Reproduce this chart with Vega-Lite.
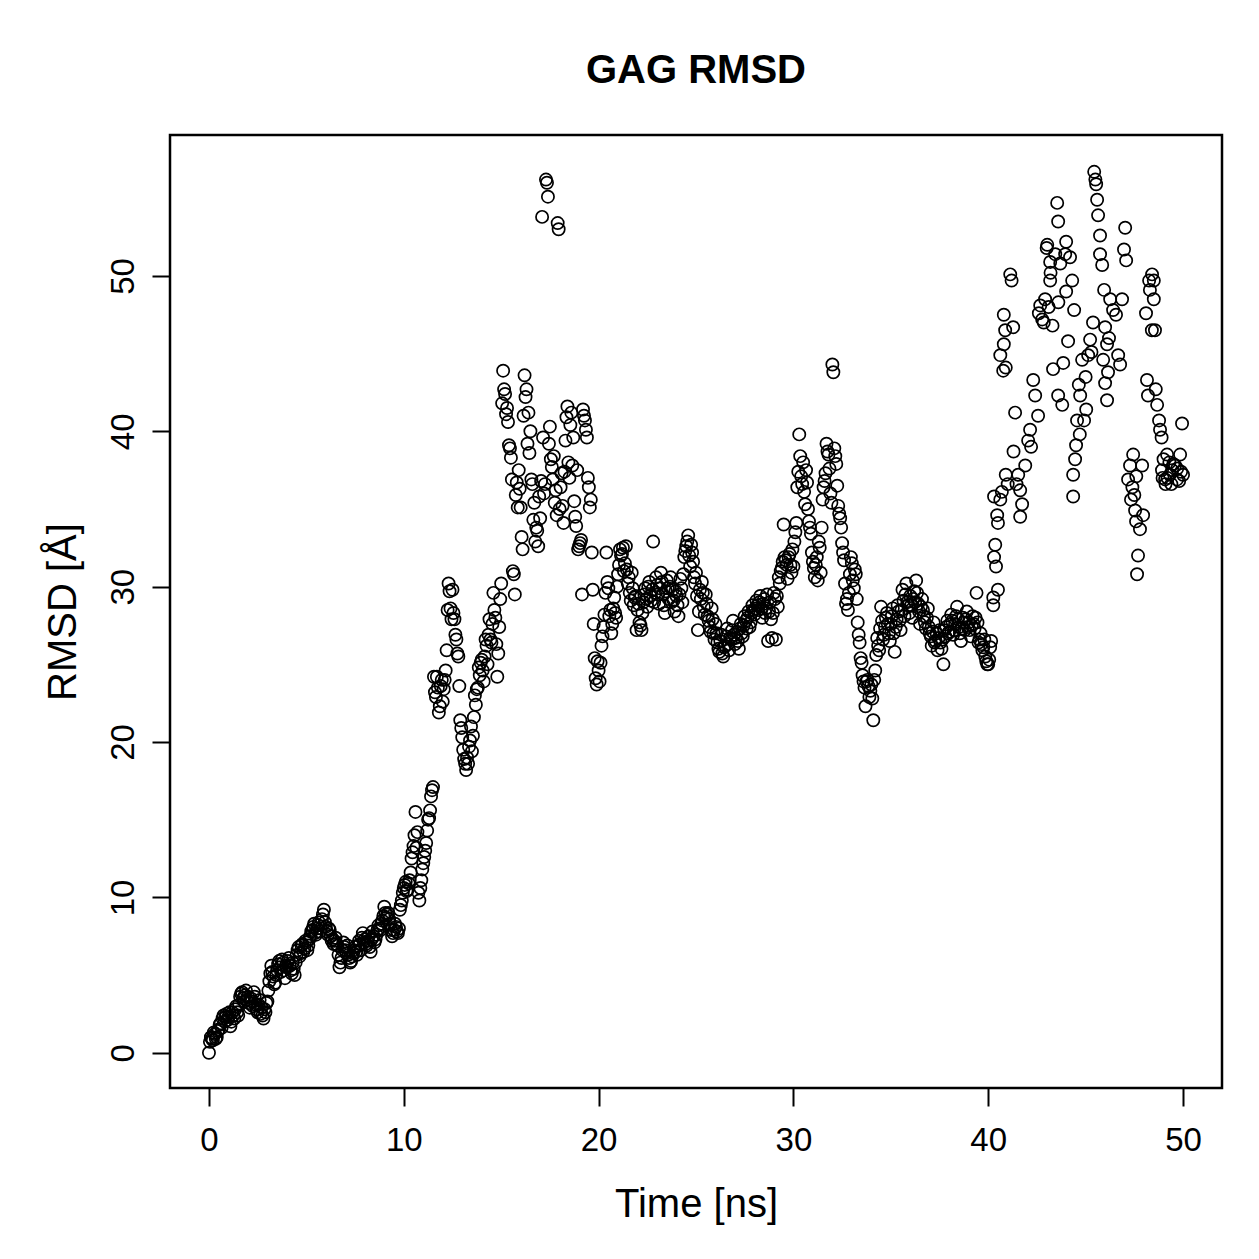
{
  "$schema": "https://vega.github.io/schema/vega-lite/v6.json",
  "autosize": {"type": "none"},
  "padding": {"left": 170, "top": 135, "right": 37, "bottom": 171},
  "width": 1052,
  "height": 953,
  "background": "white",
  "title": {
    "text": "GAG RMSD",
    "font": "Liberation Sans",
    "fontSize": 40,
    "fontWeight": "bold",
    "color": "black",
    "anchor": "middle",
    "baseline": "alphabetic",
    "offset": 12
  },
  "datasets": {
    "rmsd": [
      {"t":0.0,"r":0.0},{"t":0.1,"r":1.0},{"t":0.2,"r":0.8},{"t":0.3,"r":1.2},{"t":0.4,"r":1.0},{"t":0.5,"r":1.5},{"t":0.6,"r":1.9},{"t":0.7,"r":2.2},{"t":0.8,"r":2.0},{"t":0.9,"r":2.5},
      {"t":1.0,"r":2.3},{"t":1.1,"r":1.7},{"t":1.2,"r":2.6},{"t":1.3,"r":2.2},{"t":1.4,"r":3.0},{"t":1.5,"r":2.4},{"t":1.6,"r":3.6},{"t":1.7,"r":3.9},{"t":1.8,"r":3.3},{"t":1.9,"r":4.0},
      {"t":2.0,"r":3.6},{"t":2.1,"r":2.9},{"t":2.2,"r":3.3},{"t":2.3,"r":3.9},{"t":2.4,"r":3.1},{"t":2.5,"r":2.6},{"t":2.6,"r":3.4},{"t":2.7,"r":2.9},{"t":2.8,"r":2.2},{"t":2.9,"r":2.6},
      {"t":3.0,"r":3.3},{"t":3.1,"r":4.6},{"t":3.2,"r":5.6},{"t":3.3,"r":4.9},{"t":3.4,"r":4.5},{"t":3.5,"r":5.3},{"t":3.6,"r":5.9},{"t":3.7,"r":5.2},{"t":3.8,"r":5.8},{"t":3.9,"r":4.8},
      {"t":4.0,"r":5.5},{"t":4.1,"r":6.1},{"t":4.2,"r":5.3},{"t":4.3,"r":5.8},{"t":4.4,"r":5.0},{"t":4.5,"r":6.3},{"t":4.6,"r":6.8},{"t":4.7,"r":6.4},{"t":4.8,"r":7.0},{"t":4.9,"r":6.7},
      {"t":5.0,"r":7.1},{"t":5.1,"r":6.9},{"t":5.2,"r":7.5},{"t":5.3,"r":7.9},{"t":5.4,"r":8.3},{"t":5.5,"r":7.6},{"t":5.6,"r":8.2},{"t":5.7,"r":7.8},{"t":5.8,"r":8.6},{"t":5.9,"r":9.2},
      {"t":6.0,"r":8.1},{"t":6.1,"r":7.6},{"t":6.2,"r":7.9},{"t":6.3,"r":7.2},{"t":6.4,"r":7.0},{"t":6.5,"r":7.4},{"t":6.6,"r":6.9},{"t":6.7,"r":5.5},{"t":6.8,"r":6.1},{"t":6.9,"r":7.1},
      {"t":7.0,"r":6.6},{"t":7.1,"r":6.9},{"t":7.2,"r":6.1},{"t":7.3,"r":5.9},{"t":7.4,"r":6.4},{"t":7.5,"r":6.8},{"t":7.6,"r":6.3},{"t":7.7,"r":7.2},{"t":7.8,"r":6.6},{"t":7.9,"r":7.7},
      {"t":8.0,"r":7.3},{"t":8.1,"r":6.9},{"t":8.2,"r":7.5},{"t":8.3,"r":6.5},{"t":8.4,"r":7.8},{"t":8.5,"r":7.1},{"t":8.6,"r":7.6},{"t":8.7,"r":8.2},{"t":8.8,"r":7.9},{"t":8.9,"r":8.5},
      {"t":9.0,"r":9.4},{"t":9.1,"r":8.7},{"t":9.2,"r":9.0},{"t":9.3,"r":8.3},{"t":9.4,"r":7.5},{"t":9.5,"r":7.9},{"t":9.6,"r":8.1},{"t":9.7,"r":7.7},{"t":9.8,"r":9.2},{"t":9.9,"r":9.8},
      {"t":10.0,"r":10.6},{"t":10.1,"r":11.0},{"t":10.2,"r":10.5},{"t":10.3,"r":11.1},{"t":10.4,"r":12.5},{"t":10.5,"r":13.3},{"t":10.6,"r":15.5},{"t":10.7,"r":14.2},{"t":10.8,"r":9.8},{"t":10.9,"r":11.1},
      {"t":11.0,"r":12.2},{"t":11.1,"r":13.0},{"t":11.2,"r":14.3},{"t":11.3,"r":15.1},{"t":11.4,"r":16.5},{"t":11.5,"r":17.1},{"t":11.6,"r":23.2},{"t":11.7,"r":24.2},{"t":11.8,"r":21.9},{"t":11.9,"r":23.6},
      {"t":12.0,"r":22.6},{"t":12.1,"r":24.0},{"t":12.2,"r":25.9},{"t":12.3,"r":30.2},{"t":12.4,"r":28.6},{"t":12.5,"r":29.8},{"t":12.6,"r":27.9},{"t":12.7,"r":26.6},{"t":12.8,"r":25.5},{"t":12.9,"r":21.4},
      {"t":13.0,"r":20.3},{"t":13.1,"r":18.9},{"t":13.2,"r":18.2},{"t":13.3,"r":18.6},{"t":13.4,"r":20.1},{"t":13.5,"r":19.4},{"t":13.6,"r":21.6},{"t":13.7,"r":22.4},{"t":13.8,"r":23.5},{"t":13.9,"r":24.3},
      {"t":14.0,"r":25.3},{"t":14.1,"r":23.9},{"t":14.2,"r":26.6},{"t":14.3,"r":25.0},{"t":14.4,"r":27.9},{"t":14.5,"r":26.4},{"t":14.6,"r":29.6},{"t":14.7,"r":28.0},{"t":14.8,"r":24.2},{"t":14.9,"r":27.4},
      {"t":15.0,"r":30.2},{"t":15.1,"r":43.9},{"t":15.2,"r":42.4},{"t":15.3,"r":41.5},{"t":15.4,"r":39.1},{"t":15.5,"r":38.3},{"t":15.6,"r":31.0},{"t":15.7,"r":29.5},{"t":15.8,"r":36.7},{"t":15.9,"r":37.5},
      {"t":16.0,"r":35.1},{"t":16.1,"r":32.4},{"t":16.2,"r":43.6},{"t":16.3,"r":42.7},{"t":16.4,"r":41.2},{"t":16.5,"r":40.0},{"t":16.6,"r":36.6},{"t":16.7,"r":35.4},{"t":16.8,"r":33.8},{"t":16.9,"r":32.6},
      {"t":17.0,"r":34.4},{"t":17.1,"r":53.8},{"t":17.2,"r":36.0},{"t":17.3,"r":56.2},{"t":17.35,"r":56.0},{"t":17.4,"r":55.1},{"t":17.5,"r":40.3},{"t":17.6,"r":37.7},{"t":17.7,"r":38.4},{"t":17.8,"r":36.2},{"t":17.9,"r":53.4},{"t":17.95,"r":53.0},
      {"t":18.0,"r":35.0},{"t":18.1,"r":37.3},{"t":18.2,"r":34.1},{"t":18.3,"r":39.4},{"t":18.4,"r":41.6},{"t":18.5,"r":37.0},{"t":18.6,"r":41.2},{"t":18.7,"r":39.6},{"t":18.8,"r":34.5},{"t":18.9,"r":37.5},
      {"t":19.0,"r":32.6},{"t":19.1,"r":33.0},{"t":19.2,"r":41.4},{"t":19.3,"r":40.7},{"t":19.4,"r":39.6},{"t":19.5,"r":36.4},{"t":19.6,"r":35.6},{"t":19.7,"r":29.8},{"t":19.8,"r":25.4},{"t":19.9,"r":23.7},
      {"t":20.0,"r":24.6},{"t":20.1,"r":25.1},{"t":20.2,"r":26.8},{"t":20.3,"r":28.2},{"t":20.4,"r":32.2},{"t":20.5,"r":29.9},{"t":20.6,"r":28.5},{"t":20.7,"r":27.6},{"t":20.8,"r":29.3},{"t":20.9,"r":28.0},
      {"t":21.0,"r":30.8},{"t":21.1,"r":32.4},{"t":21.2,"r":32.1},{"t":21.3,"r":31.0},{"t":21.4,"r":32.6},{"t":21.5,"r":30.2},{"t":21.6,"r":29.6},{"t":21.7,"r":30.9},{"t":21.8,"r":28.8},{"t":21.9,"r":29.4},
      {"t":22.0,"r":28.5},{"t":22.1,"r":27.7},{"t":22.2,"r":27.2},{"t":22.3,"r":29.0},{"t":22.4,"r":29.9},{"t":22.5,"r":28.7},{"t":22.6,"r":30.3},{"t":22.7,"r":29.1},{"t":22.8,"r":32.9},{"t":22.9,"r":29.6},
      {"t":23.0,"r":30.1},{"t":23.1,"r":28.9},{"t":23.2,"r":30.9},{"t":23.3,"r":29.5},{"t":23.4,"r":28.3},{"t":23.5,"r":30.4},{"t":23.6,"r":29.2},{"t":23.7,"r":30.6},{"t":23.8,"r":29.8},{"t":23.9,"r":28.4},
      {"t":24.0,"r":29.4},{"t":24.1,"r":28.1},{"t":24.2,"r":30.5},{"t":24.3,"r":29.0},{"t":24.4,"r":31.9},{"t":24.5,"r":32.6},{"t":24.6,"r":33.3},{"t":24.7,"r":31.3},{"t":24.8,"r":32.2},{"t":24.9,"r":30.6},
      {"t":25.0,"r":30.9},{"t":25.1,"r":27.2},{"t":25.2,"r":29.8},{"t":25.3,"r":30.3},{"t":25.4,"r":28.7},{"t":25.5,"r":29.5},{"t":25.6,"r":28.1},{"t":25.7,"r":27.4},{"t":25.8,"r":28.6},{"t":25.9,"r":27.0},
      {"t":26.0,"r":27.6},{"t":26.1,"r":26.4},{"t":26.2,"r":25.8},{"t":26.3,"r":26.9},{"t":26.4,"r":25.5},{"t":26.5,"r":26.2},{"t":26.6,"r":27.3},{"t":26.7,"r":25.9},{"t":26.8,"r":26.6},{"t":26.9,"r":27.8},
      {"t":27.0,"r":26.3},{"t":27.1,"r":27.1},{"t":27.2,"r":26.0},{"t":27.3,"r":27.6},{"t":27.4,"r":26.8},{"t":27.5,"r":28.1},{"t":27.6,"r":27.3},{"t":27.7,"r":28.4},{"t":27.8,"r":27.7},{"t":27.9,"r":28.8},
      {"t":28.0,"r":28.2},{"t":28.1,"r":29.1},{"t":28.2,"r":28.5},{"t":28.3,"r":29.4},{"t":28.4,"r":28.0},{"t":28.5,"r":29.2},{"t":28.6,"r":28.6},{"t":28.7,"r":26.5},{"t":28.8,"r":29.0},{"t":28.9,"r":26.7},
      {"t":29.0,"r":29.6},{"t":29.1,"r":26.6},{"t":29.2,"r":28.7},{"t":29.3,"r":30.2},{"t":29.4,"r":31.2},{"t":29.5,"r":34.0},{"t":29.6,"r":31.7},{"t":29.7,"r":30.5},{"t":29.8,"r":32.1},{"t":29.9,"r":30.9},
      {"t":30.0,"r":31.3},{"t":30.1,"r":33.5},{"t":30.2,"r":36.4},{"t":30.3,"r":39.8},{"t":30.4,"r":37.1},{"t":30.5,"r":38.0},{"t":30.6,"r":35.3},{"t":30.7,"r":36.7},{"t":30.8,"r":34.2},{"t":30.9,"r":33.4},
      {"t":31.0,"r":31.6},{"t":31.1,"r":30.6},{"t":31.2,"r":31.9},{"t":31.3,"r":32.9},{"t":31.4,"r":30.9},{"t":31.5,"r":35.6},{"t":31.6,"r":36.8},{"t":31.7,"r":39.2},{"t":31.8,"r":38.5},{"t":31.9,"r":36.0},
      {"t":32.0,"r":44.3},{"t":32.05,"r":43.8},{"t":32.1,"r":38.9},{"t":32.2,"r":37.9},{"t":32.3,"r":35.2},{"t":32.4,"r":34.4},{"t":32.5,"r":32.8},{"t":32.6,"r":31.7},{"t":32.7,"r":28.9},{"t":32.8,"r":28.5},{"t":32.9,"r":30.8},
      {"t":33.0,"r":31.5},{"t":33.1,"r":29.9},{"t":33.2,"r":30.8},{"t":33.3,"r":27.7},{"t":33.4,"r":26.4},{"t":33.5,"r":25.1},{"t":33.6,"r":23.9},{"t":33.7,"r":22.3},{"t":33.8,"r":24.0},{"t":33.9,"r":22.9},
      {"t":34.0,"r":23.7},{"t":34.1,"r":21.4},{"t":34.2,"r":24.6},{"t":34.3,"r":26.7},{"t":34.4,"r":25.9},{"t":34.5,"r":28.7},{"t":34.6,"r":26.6},{"t":34.7,"r":27.4},{"t":34.8,"r":28.3},{"t":34.9,"r":27.0},
      {"t":35.0,"r":27.6},{"t":35.1,"r":28.6},{"t":35.2,"r":25.8},{"t":35.3,"r":27.9},{"t":35.4,"r":28.4},{"t":35.5,"r":27.2},{"t":35.6,"r":29.8},{"t":35.7,"r":28.1},{"t":35.8,"r":30.2},{"t":35.9,"r":28.8},
      {"t":36.0,"r":29.4},{"t":36.1,"r":28.0},{"t":36.2,"r":29.7},{"t":36.3,"r":30.4},{"t":36.4,"r":28.9},{"t":36.5,"r":27.6},{"t":36.6,"r":29.2},{"t":36.7,"r":28.1},{"t":36.8,"r":27.3},{"t":36.9,"r":28.6},
      {"t":37.0,"r":27.0},{"t":37.1,"r":26.2},{"t":37.2,"r":27.7},{"t":37.3,"r":26.5},{"t":37.4,"r":25.9},{"t":37.5,"r":27.2},{"t":37.6,"r":26.0},{"t":37.7,"r":25.0},{"t":37.8,"r":26.8},{"t":37.9,"r":27.8},
      {"t":38.0,"r":27.1},{"t":38.1,"r":28.2},{"t":38.2,"r":26.9},{"t":38.3,"r":27.6},{"t":38.4,"r":28.7},{"t":38.5,"r":27.4},{"t":38.6,"r":26.5},{"t":38.7,"r":28.0},{"t":38.8,"r":27.2},{"t":38.9,"r":28.4},
      {"t":39.0,"r":27.7},{"t":39.1,"r":26.8},{"t":39.2,"r":28.1},{"t":39.3,"r":27.3},{"t":39.4,"r":29.6},{"t":39.5,"r":26.4},{"t":39.6,"r":27.0},{"t":39.7,"r":25.9},{"t":39.8,"r":26.6},{"t":39.9,"r":25.2},
      {"t":40.0,"r":25.0},{"t":40.1,"r":26.1},{"t":40.26,"r":29.3},{"t":40.26,"r":28.8},{"t":40.3,"r":31.9},{"t":40.3,"r":35.8},{"t":40.36,"r":32.7},{"t":40.4,"r":31.3},{"t":40.46,"r":34.6},{"t":40.5,"r":29.8},{"t":40.5,"r":34.1},
      {"t":40.62,"r":35.6},{"t":40.62,"r":44.9},{"t":40.7,"r":36.1},{"t":40.77,"r":43.9},{"t":40.8,"r":47.5},{"t":40.8,"r":45.6},{"t":40.87,"r":46.5},{"t":40.9,"r":37.2},{"t":40.9,"r":44.1},
      {"t":41.0,"r":36.6},{"t":41.13,"r":50.1},{"t":41.2,"r":49.7},{"t":41.28,"r":46.7},{"t":41.3,"r":38.7},{"t":41.38,"r":41.2},{"t":41.45,"r":36.6},{"t":41.54,"r":37.2},{"t":41.64,"r":36.2},{"t":41.64,"r":34.5},{"t":41.74,"r":35.3},{"t":41.9,"r":37.8},
      {"t":42.05,"r":39.4},{"t":42.15,"r":40.1},{"t":42.2,"r":39.0},{"t":42.31,"r":43.3},{"t":42.41,"r":42.3},{"t":42.56,"r":41.0},{"t":42.6,"r":47.6},{"t":42.67,"r":48.1},{"t":42.77,"r":47.2},{"t":42.85,"r":47.0},{"t":42.92,"r":48.5},
      {"t":43.0,"r":51.8},{"t":43.03,"r":52.0},{"t":43.1,"r":48.0},{"t":43.18,"r":50.9},{"t":43.18,"r":49.7},{"t":43.2,"r":50.2},{"t":43.3,"r":46.8},{"t":43.33,"r":44.0},{"t":43.44,"r":51.4},{"t":43.54,"r":54.7},{"t":43.59,"r":53.5},{"t":43.59,"r":42.3},{"t":43.6,"r":48.3},{"t":43.7,"r":50.8},
      {"t":43.8,"r":41.7},{"t":43.85,"r":44.4},{"t":43.95,"r":51.4},{"t":44.0,"r":52.2},{"t":44.0,"r":49.0},{"t":44.1,"r":45.8},{"t":44.2,"r":51.2},{"t":44.31,"r":49.7},{"t":44.36,"r":37.2},{"t":44.36,"r":35.8},{"t":44.41,"r":47.8},{"t":44.46,"r":38.2},{"t":44.51,"r":39.1},{"t":44.56,"r":40.7},
      {"t":44.65,"r":43.0},{"t":44.7,"r":39.8},{"t":44.72,"r":42.3},{"t":44.82,"r":44.6},{"t":44.92,"r":40.7},{"t":45.0,"r":43.5},{"t":45.03,"r":41.4},{"t":45.13,"r":44.9},{"t":45.23,"r":45.9},{"t":45.3,"r":45.1},{"t":45.38,"r":47.0},
      {"t":45.44,"r":56.7},{"t":45.5,"r":56.2},{"t":45.54,"r":55.9},{"t":45.59,"r":54.9},{"t":45.64,"r":53.9},{"t":45.74,"r":52.6},{"t":45.74,"r":51.4},{"t":45.85,"r":50.7},{"t":45.9,"r":44.6},{"t":45.95,"r":49.1},
      {"t":46.0,"r":46.7},{"t":46.0,"r":43.1},{"t":46.1,"r":45.6},{"t":46.1,"r":42.0},{"t":46.15,"r":43.8},{"t":46.2,"r":46.0},{"t":46.26,"r":48.5},{"t":46.41,"r":47.8},{"t":46.56,"r":47.5},{"t":46.67,"r":44.9},{"t":46.77,"r":44.3},{"t":46.87,"r":48.5},{"t":46.97,"r":51.7},
      {"t":47.03,"r":53.1},{"t":47.08,"r":51.0},{"t":47.18,"r":36.9},{"t":47.28,"r":37.8},{"t":47.33,"r":35.6},{"t":47.4,"r":36.4},{"t":47.44,"r":38.5},{"t":47.5,"r":35.9},{"t":47.54,"r":34.9},{"t":47.59,"r":34.2},{"t":47.6,"r":37.1},{"t":47.64,"r":30.8},{"t":47.69,"r":32.0},{"t":47.79,"r":33.7},{"t":47.9,"r":37.8},{"t":47.95,"r":34.6},
      {"t":48.1,"r":47.6},{"t":48.15,"r":43.3},{"t":48.2,"r":42.3},{"t":48.26,"r":49.7},{"t":48.3,"r":49.1},{"t":48.4,"r":46.5},{"t":48.41,"r":50.1},{"t":48.5,"r":48.5},{"t":48.5,"r":49.7},{"t":48.56,"r":46.5},{"t":48.6,"r":42.7},{"t":48.67,"r":41.7},{"t":48.77,"r":40.7},{"t":48.82,"r":40.1},
      {"t":48.9,"r":39.6},{"t":48.92,"r":37.5},{"t":48.95,"r":37.0},{"t":49.0,"r":38.2},{"t":49.08,"r":36.9},{"t":49.1,"r":36.6},{"t":49.18,"r":38.5},{"t":49.2,"r":37.0},{"t":49.3,"r":38.0},{"t":49.33,"r":37.2},{"t":49.4,"r":36.6},{"t":49.44,"r":37.5},{"t":49.5,"r":37.9},
      {"t":49.59,"r":37.8},{"t":49.69,"r":36.9},{"t":49.7,"r":37.6},{"t":49.8,"r":36.8},{"t":49.85,"r":38.5},{"t":49.9,"r":37.4},{"t":49.95,"r":40.5},{"t":50.0,"r":37.2},
      {"t":0.05,"r":0.7},{"t":0.15,"r":0.9},{"t":0.25,"r":1.3},{"t":0.35,"r":0.9},{"t":0.45,"r":1.4},{"t":0.55,"r":1.8},{"t":0.65,"r":1.6},{"t":0.75,"r":2.4},{"t":0.85,"r":2.3},{"t":0.95,"r":2.1},
      {"t":1.05,"r":2.6},{"t":1.15,"r":2.0},{"t":1.25,"r":2.4},{"t":1.35,"r":2.8},{"t":1.45,"r":2.6},{"t":1.55,"r":3.1},{"t":1.65,"r":3.8},{"t":1.75,"r":3.5},{"t":1.85,"r":3.7},{"t":1.95,"r":3.4},
      {"t":2.05,"r":3.2},{"t":2.15,"r":3.5},{"t":2.25,"r":3.0},{"t":2.35,"r":3.6},{"t":2.45,"r":2.8},{"t":2.55,"r":3.1},{"t":2.65,"r":2.5},{"t":2.75,"r":2.4},{"t":2.85,"r":2.8},{"t":2.95,"r":3.2},
      {"t":3.05,"r":4.0},{"t":3.15,"r":5.1},{"t":3.25,"r":5.2},{"t":3.35,"r":4.4},{"t":3.45,"r":5.0},{"t":3.55,"r":5.7},{"t":3.65,"r":5.5},{"t":3.75,"r":6.0},{"t":3.85,"r":5.3},{"t":3.95,"r":5.6},
      {"t":4.05,"r":5.9},{"t":4.15,"r":5.6},{"t":4.25,"r":5.1},{"t":4.35,"r":5.4},{"t":4.45,"r":5.8},{"t":4.55,"r":6.6},{"t":4.65,"r":6.2},{"t":4.75,"r":6.9},{"t":4.85,"r":6.5},{"t":4.95,"r":7.2},
      {"t":5.05,"r":6.6},{"t":5.15,"r":7.3},{"t":5.25,"r":7.8},{"t":5.35,"r":8.1},{"t":5.45,"r":7.7},{"t":5.55,"r":8.0},{"t":5.65,"r":8.4},{"t":5.75,"r":8.0},{"t":5.85,"r":8.9},{"t":5.95,"r":8.4},
      {"t":6.05,"r":7.8},{"t":6.15,"r":8.0},{"t":6.25,"r":7.5},{"t":6.35,"r":7.3},{"t":6.45,"r":7.2},{"t":6.55,"r":7.0},{"t":6.65,"r":6.3},{"t":6.75,"r":5.8},{"t":6.85,"r":6.6},{"t":6.95,"r":6.8},
      {"t":7.05,"r":6.4},{"t":7.15,"r":6.3},{"t":7.25,"r":5.8},{"t":7.35,"r":6.2},{"t":7.45,"r":6.6},{"t":7.55,"r":6.5},{"t":7.65,"r":6.9},{"t":7.75,"r":7.0},{"t":7.85,"r":7.4},{"t":7.95,"r":7.1},
      {"t":8.05,"r":7.0},{"t":8.15,"r":7.2},{"t":8.25,"r":6.8},{"t":8.35,"r":7.3},{"t":8.45,"r":7.5},{"t":8.55,"r":7.3},{"t":8.65,"r":7.9},{"t":8.75,"r":8.0},{"t":8.85,"r":8.3},{"t":8.95,"r":8.8},
      {"t":9.05,"r":9.0},{"t":9.15,"r":8.9},{"t":9.25,"r":8.6},{"t":9.35,"r":7.9},{"t":9.45,"r":7.7},{"t":9.55,"r":8.3},{"t":9.65,"r":7.8},{"t":9.75,"r":8.0},{"t":9.85,"r":9.5},{"t":9.95,"r":10.3},
      {"t":10.05,"r":10.8},{"t":10.15,"r":10.4},{"t":10.25,"r":10.9},{"t":10.35,"r":11.6},{"t":10.45,"r":12.9},{"t":10.55,"r":14.0},{"t":10.65,"r":13.2},{"t":10.75,"r":10.3},{"t":10.85,"r":10.6},{"t":10.95,"r":11.8},
      {"t":11.05,"r":12.6},{"t":11.15,"r":13.5},{"t":11.25,"r":15.0},{"t":11.35,"r":15.6},{"t":11.45,"r":16.9},{"t":11.55,"r":24.2},{"t":11.65,"r":22.9},{"t":11.75,"r":23.5},{"t":11.85,"r":22.3},{"t":11.95,"r":24.0},
      {"t":12.05,"r":23.4},{"t":12.15,"r":24.6},{"t":12.25,"r":28.5},{"t":12.35,"r":29.7},{"t":12.45,"r":27.9},{"t":12.55,"r":28.3},{"t":12.65,"r":26.9},{"t":12.75,"r":25.7},{"t":12.85,"r":23.6},{"t":12.95,"r":20.9},
      {"t":13.05,"r":19.5},{"t":13.15,"r":18.6},{"t":13.25,"r":19.0},{"t":13.35,"r":19.7},{"t":13.45,"r":21.0},{"t":13.55,"r":20.4},{"t":13.65,"r":23.0},{"t":13.75,"r":23.4},{"t":13.85,"r":24.8},{"t":13.95,"r":25.1},
      {"t":14.05,"r":24.6},{"t":14.15,"r":25.5},{"t":14.25,"r":26.2},{"t":14.35,"r":26.9},{"t":14.45,"r":26.6},{"t":14.55,"r":27.6},{"t":14.65,"r":28.5},{"t":14.75,"r":26.3},{"t":14.85,"r":25.7},{"t":14.95,"r":29.2},
      {"t":15.05,"r":41.8},{"t":15.15,"r":42.7},{"t":15.25,"r":41.1},{"t":15.35,"r":40.6},{"t":15.45,"r":38.9},{"t":15.55,"r":36.9},{"t":15.65,"r":30.8},{"t":15.75,"r":35.9},{"t":15.85,"r":35.1},{"t":15.95,"r":36.3},
      {"t":16.05,"r":33.2},{"t":16.15,"r":41.0},{"t":16.25,"r":42.2},{"t":16.35,"r":39.2},{"t":16.45,"r":38.6},{"t":16.55,"r":36.9},{"t":16.65,"r":34.3},{"t":16.75,"r":32.9},{"t":16.85,"r":33.6},{"t":16.95,"r":35.8},
      {"t":17.05,"r":36.8},{"t":17.15,"r":39.6},{"t":17.25,"r":36.6},{"t":17.45,"r":39.2},{"t":17.55,"r":38.2},{"t":17.65,"r":36.9},{"t":17.75,"r":35.4},{"t":17.85,"r":34.6},
      {"t":18.05,"r":36.4},{"t":18.15,"r":35.2},{"t":18.25,"r":37.4},{"t":18.35,"r":40.9},{"t":18.45,"r":38.0},{"t":18.55,"r":40.4},{"t":18.65,"r":37.8},{"t":18.75,"r":35.5},{"t":18.85,"r":33.9},{"t":18.95,"r":32.4},
      {"t":19.05,"r":32.8},{"t":19.15,"r":29.5},{"t":19.25,"r":41.0},{"t":19.35,"r":40.1},{"t":19.45,"r":37.0},{"t":19.55,"r":35.1},{"t":19.65,"r":32.2},{"t":19.75,"r":27.6},{"t":19.85,"r":24.1},{"t":19.95,"r":25.2},
      {"t":20.05,"r":23.9},{"t":20.15,"r":26.2},{"t":20.25,"r":27.4},{"t":20.35,"r":29.6},{"t":20.45,"r":30.3},{"t":20.55,"r":28.1},{"t":20.65,"r":27.0},{"t":20.75,"r":28.6},{"t":20.85,"r":28.3},{"t":20.95,"r":30.0},
      {"t":21.05,"r":31.4},{"t":21.15,"r":32.0},{"t":21.25,"r":32.5},{"t":21.35,"r":31.5},{"t":21.45,"r":31.1},{"t":21.55,"r":30.6},{"t":21.65,"r":29.1},{"t":21.75,"r":29.9},{"t":21.85,"r":29.3},{"t":21.95,"r":27.2},
      {"t":22.05,"r":28.9},{"t":22.15,"r":27.5},{"t":22.25,"r":28.3},{"t":22.35,"r":29.5},{"t":22.45,"r":29.2},{"t":22.55,"r":30.0},{"t":22.65,"r":29.4},{"t":22.75,"r":29.8},{"t":22.85,"r":29.0},{"t":22.95,"r":30.6},
      {"t":23.05,"r":29.5},{"t":23.15,"r":29.9},{"t":23.25,"r":30.3},{"t":23.35,"r":28.8},{"t":23.45,"r":29.7},{"t":23.55,"r":29.9},{"t":23.65,"r":30.0},{"t":23.75,"r":29.0},{"t":23.85,"r":29.1},{"t":23.95,"r":29.7},
      {"t":24.05,"r":28.8},{"t":24.15,"r":29.5},{"t":24.25,"r":29.9},{"t":24.35,"r":30.8},{"t":24.45,"r":32.3},{"t":24.55,"r":32.9},{"t":24.65,"r":32.0},{"t":24.75,"r":32.7},{"t":24.85,"r":31.6},{"t":24.95,"r":30.2},
      {"t":25.05,"r":29.4},{"t":25.15,"r":28.4},{"t":25.25,"r":29.2},{"t":25.35,"r":29.6},{"t":25.45,"r":28.2},{"t":25.55,"r":28.9},{"t":25.65,"r":27.8},{"t":25.75,"r":27.1},{"t":25.85,"r":27.9},{"t":25.95,"r":26.6},
      {"t":26.05,"r":27.0},{"t":26.15,"r":26.0},{"t":26.25,"r":26.5},{"t":26.35,"r":25.7},{"t":26.45,"r":26.1},{"t":26.55,"r":26.8},{"t":26.65,"r":26.3},{"t":26.75,"r":26.7},{"t":26.85,"r":27.2},{"t":26.95,"r":26.9},
      {"t":27.05,"r":26.7},{"t":27.15,"r":26.5},{"t":27.25,"r":27.3},{"t":27.35,"r":27.0},{"t":27.45,"r":27.5},{"t":27.55,"r":27.8},{"t":27.65,"r":28.0},{"t":27.75,"r":27.4},{"t":27.85,"r":28.3},{"t":27.95,"r":28.5},
      {"t":28.05,"r":28.6},{"t":28.15,"r":28.8},{"t":28.25,"r":29.0},{"t":28.35,"r":28.6},{"t":28.45,"r":28.9},{"t":28.55,"r":28.3},{"t":28.65,"r":29.5},{"t":28.75,"r":28.4},{"t":28.85,"r":27.9},{"t":28.95,"r":28.3},
      {"t":29.05,"r":29.2},{"t":29.15,"r":29.4},{"t":29.25,"r":30.6},{"t":29.35,"r":31.0},{"t":29.45,"r":31.6},{"t":29.55,"r":31.9},{"t":29.65,"r":31.4},{"t":29.75,"r":31.9},{"t":29.85,"r":31.4},{"t":29.95,"r":32.4},
      {"t":30.05,"r":32.9},{"t":30.15,"r":34.1},{"t":30.25,"r":37.4},{"t":30.35,"r":38.4},{"t":30.45,"r":36.6},{"t":30.55,"r":36.1},{"t":30.65,"r":37.5},{"t":30.75,"r":35.0},{"t":30.85,"r":33.8},{"t":30.95,"r":32.2},
      {"t":31.05,"r":31.2},{"t":31.15,"r":31.4},{"t":31.25,"r":30.4},{"t":31.35,"r":32.5},{"t":31.45,"r":33.8},{"t":31.55,"r":36.4},{"t":31.65,"r":37.3},{"t":31.75,"r":38.7},{"t":31.85,"r":37.6},{"t":31.95,"r":35.4},
      {"t":32.15,"r":38.4},{"t":32.25,"r":36.5},{"t":32.35,"r":34.7},{"t":32.45,"r":33.8},{"t":32.55,"r":32.2},{"t":32.65,"r":30.2},{"t":32.75,"r":29.2},{"t":32.85,"r":29.6},{"t":32.95,"r":31.9},
      {"t":33.05,"r":30.4},{"t":33.15,"r":31.1},{"t":33.25,"r":29.2},{"t":33.35,"r":26.9},{"t":33.45,"r":25.4},{"t":33.55,"r":24.3},{"t":33.65,"r":23.5},{"t":33.75,"r":23.9},{"t":33.85,"r":23.6},{"t":33.95,"r":23.3},
      {"t":34.05,"r":22.8},{"t":34.15,"r":24.0},{"t":34.25,"r":25.6},{"t":34.35,"r":26.2},{"t":34.45,"r":27.3},{"t":34.55,"r":27.8},{"t":34.65,"r":26.9},{"t":34.75,"r":28.0},{"t":34.85,"r":27.6},{"t":34.95,"r":26.5},
      {"t":35.05,"r":28.1},{"t":35.15,"r":27.0},{"t":35.25,"r":27.4},{"t":35.35,"r":28.8},{"t":35.45,"r":27.8},{"t":35.55,"r":28.5},{"t":35.65,"r":29.1},{"t":35.75,"r":29.5},{"t":35.85,"r":29.0},{"t":35.95,"r":28.3},
      {"t":36.05,"r":28.8},{"t":36.15,"r":29.2},{"t":36.25,"r":29.0},{"t":36.35,"r":29.6},{"t":36.45,"r":28.4},{"t":36.55,"r":28.7},{"t":36.65,"r":28.5},{"t":36.75,"r":27.7},{"t":36.85,"r":28.0},{"t":36.95,"r":27.4},
      {"t":37.05,"r":26.8},{"t":37.15,"r":27.1},{"t":37.25,"r":26.4},{"t":37.35,"r":27.0},{"t":37.45,"r":26.7},{"t":37.55,"r":26.4},{"t":37.65,"r":26.6},{"t":37.75,"r":27.2},{"t":37.85,"r":27.4},{"t":37.95,"r":27.0},
      {"t":38.05,"r":27.6},{"t":38.15,"r":27.8},{"t":38.25,"r":27.2},{"t":38.35,"r":28.1},{"t":38.45,"r":27.9},{"t":38.55,"r":27.0},{"t":38.65,"r":27.3},{"t":38.75,"r":27.7},{"t":38.85,"r":27.9},{"t":38.95,"r":27.4},
      {"t":39.05,"r":27.2},{"t":39.15,"r":27.5},{"t":39.25,"r":27.6},{"t":39.35,"r":28.0},{"t":39.45,"r":27.7},{"t":39.55,"r":26.6},{"t":39.65,"r":26.3},{"t":39.75,"r":26.1},{"t":39.85,"r":25.5},{"t":39.95,"r":25.0},
      {"t":40.05,"r":25.3},{"t":40.15,"r":26.5}
    ]
  },
  "data": {"name": "rmsd"},
  "mark": {
    "type": "point",
    "shape": "circle",
    "filled": false,
    "color": "black",
    "opacity": 1,
    "size": 150,
    "strokeWidth": 1.7
  },
  "encoding": {
    "x": {
      "field": "t",
      "type": "quantitative",
      "scale": {"domain": [-2, 52], "nice": false, "zero": false},
      "axis": {
        "title": "Time [ns]",
        "values": [0, 10, 20, 30, 40, 50],
        "domain": false,
        "grid": false,
        "tickSize": 18,
        "tickWidth": 2,
        "tickColor": "black",
        "labelFont": "Liberation Sans",
        "labelFontSize": 33,
        "labelColor": "black",
        "labelFlush": false,
        "labelBaseline": "alphabetic",
        "labelPadding": 44,
        "titleFont": "Liberation Sans",
        "titleFontSize": 40,
        "titleFontWeight": "normal",
        "titleColor": "black",
        "titleX": 526,
        "titleY": 128,
        "titleAlign": "center",
        "titleBaseline": "alphabetic"
      }
    },
    "y": {
      "field": "r",
      "type": "quantitative",
      "scale": {"domain": [-2.27, 59.07], "nice": false, "zero": false},
      "axis": {
        "title": "RMSD [Å]",
        "values": [0, 10, 20, 30, 40, 50],
        "domain": false,
        "grid": false,
        "tickSize": 18,
        "tickWidth": 2,
        "tickColor": "black",
        "labelFont": "Liberation Sans",
        "labelFontSize": 33,
        "labelColor": "black",
        "labelFlush": false,
        "labelAngle": 270,
        "labelAlign": "center",
        "labelBaseline": "alphabetic",
        "labelPadding": 19,
        "titleFont": "Liberation Sans",
        "titleFontSize": 40,
        "titleFontWeight": "normal",
        "titleColor": "black",
        "titleAngle": 270,
        "titleX": -95,
        "titleY": 476.5,
        "titleAlign": "center",
        "titleBaseline": "alphabetic"
      }
    }
  },
  "config": {
    "view": {"stroke": "black", "strokeWidth": 2.5}
  }
}
